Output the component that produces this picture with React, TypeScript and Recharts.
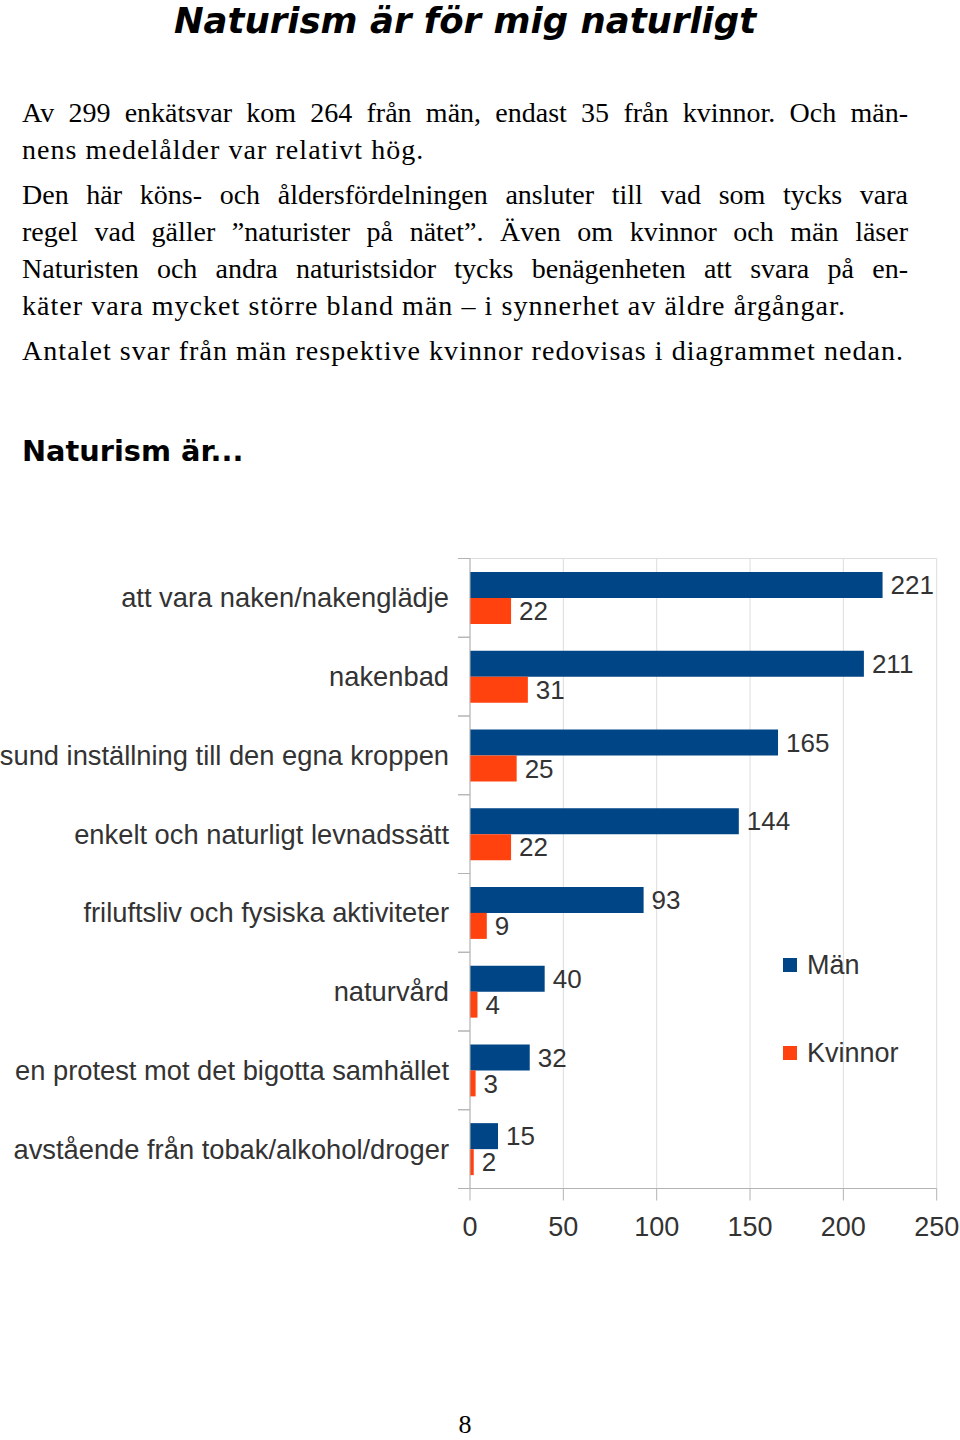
import React from 'react';
import { BarChart, Bar, XAxis, YAxis, CartesianGrid, Legend, LabelList } from 'recharts';

const categories = [
  'att vara naken/nakenglädje',
  'nakenbad',
  'sund inställning till den egna kroppen',
  'enkelt och naturligt levnadssätt',
  'friluftsliv och fysiska aktiviteter',
  'naturvård',
  'en protest mot det bigotta samhället',
  'avstående från  tobak/alkohol/droger',
];
const manValues = [221, 211, 165, 144, 93, 40, 32, 15];
const kvinnorValues = [22, 31, 25, 22, 9, 4, 3, 2];
const xTicks = [0, 50, 100, 150, 200, 250];

const MAN = '#004586';
const KVINNOR = '#ff420e';
const GRID = '#dddddd';
const AXIS = '#b3b3b3';
const TEXT = '#333333';
const SANS = "'Liberation Sans', Arial, sans-serif";

const data = categories.map((name, i) => ({ name, man: manValues[i], kvinnor: kvinnorValues[i] }));

// body text, one entry per printed line (justified lines marked)
const lines = [
  { text: 'Av 299 enkätsvar kom 264 från män, endast 35 från kvinnor. Och män-', y: 113, justify: true },
  { text: 'nens medelålder var relativt hög.', y: 150, justify: false },
  { text: 'Den här köns- och åldersfördelningen ansluter till vad som tycks vara', y: 195, justify: true },
  { text: 'regel vad gäller ”naturister på nätet”. Även om kvinnor och män läser', y: 232, justify: true },
  { text: 'Naturisten och andra naturistsidor tycks benägenheten att svara på en-', y: 269, justify: true },
  { text: 'käter vara mycket större bland män – i synnerhet av äldre årgångar.', y: 306, justify: false },
  { text: 'Antalet svar från män respektive kvinnor redovisas i diagrammet nedan.', y: 351, justify: false },
];

const CategoryTick = (props: any) => {
  const { x, y, payload } = props;
  const off = payload.offset || 0;
  return (
    <g>
      <line x1={x + 9} x2={x + 21} y1={y - off} y2={y - off} stroke={AXIS} />
      <line x1={x + 9} x2={x + 21} y1={y + off} y2={y + off} stroke={AXIS} />
      <text x={x} y={y} textAnchor="end" dominantBaseline="central" fill={TEXT} fontSize={27.3} fontFamily={SANS}>
        {payload.value}
      </text>
    </g>
  );
};

const LegendBox = () => (
  <div style={{ fontFamily: SANS, fontSize: 27, color: TEXT }}>
    {[{ label: 'Män', color: MAN }, { label: 'Kvinnor', color: KVINNOR }].map((it, i) => (
      <div key={it.label} style={{ display: 'flex', alignItems: 'center', height: 30, marginBottom: i === 0 ? 58 : 0 }}>
        <span style={{ width: 14, height: 14, background: it.color, display: 'inline-block', marginRight: 10 }} />
        <span>{it.label}</span>
      </div>
    ))}
  </div>
);

export default function App() {
  return (
    <div style={{ position: 'relative', width: 960, height: 1440, background: '#fff', overflow: 'hidden' }}>
      <style>{`body{margin:0}`}</style>
      <div style={{ position: 'absolute', left: 0, top: 0, width: 930, textAlign: 'center',
        fontFamily: "'DejaVu Sans', sans-serif", fontWeight: 'bold', fontStyle: 'italic', fontSize: 35.5, lineHeight: '41px' }}>
        Naturism är för mig naturligt
      </div>
      {lines.map((l) => (
        <div key={l.text} style={{ position: 'absolute', left: 22, top: l.y - 19, width: 886,
          fontFamily: "'Liberation Serif', serif", fontSize: 28, lineHeight: '37px', color: '#000',
          letterSpacing: l.justify ? 0 : 1.05,
          textAlign: l.justify ? 'justify' : 'left', textAlignLast: l.justify ? 'justify' : 'auto', whiteSpace: 'nowrap' }}>
          {l.text}
        </div>
      ))}
      <div style={{ position: 'absolute', left: 22, top: 433, fontFamily: "'DejaVu Sans', sans-serif",
        fontWeight: 'bold', fontSize: 28.8, lineHeight: '36px' }}>
        Naturism är...
      </div>
      <div style={{ position: 'absolute', left: 0, top: 500 }}>
        <BarChart width={960} height={760} data={data} layout="vertical" barCategoryGap="17%" barGap={0}
          margin={{ top: 58.5, right: 23.3, left: 0, bottom: 0 }}>
          <CartesianGrid stroke={GRID} horizontal={true} vertical={true}
            horizontalCoordinatesGenerator={({ offset }: any) => [offset.top]} />
          <XAxis type="number" domain={[0, 250]} ticks={xTicks} height={71.5} tickSize={12} tickMargin={16}
            axisLine={{ stroke: AXIS }} tickLine={{ stroke: AXIS }}
            tick={{ fill: TEXT, fontSize: 27, fontFamily: SANS }} />
          <YAxis type="category" dataKey="name" width={470} axisLine={{ stroke: AXIS }} tickLine={false}
            tickSize={0} tickMargin={21} tick={<CategoryTick />} interval={0} />
          <Legend content={<LegendBox />} layout="horizontal" verticalAlign="middle" align="center"
            wrapperStyle={{ left: 783, top: 450, width: 'auto' }} />
          <Bar dataKey="man" name="Män" fill={MAN} isAnimationActive={false}>
            <LabelList dataKey="man" position="right" offset={8} fill={TEXT} fontSize={26} fontFamily={SANS} />
          </Bar>
          <Bar dataKey="kvinnor" name="Kvinnor" fill={KVINNOR} isAnimationActive={false}>
            <LabelList dataKey="kvinnor" position="right" offset={8} fill={TEXT} fontSize={26} fontFamily={SANS} />
          </Bar>
        </BarChart>
      </div>
      <div style={{ position: 'absolute', left: 0, top: 1410, width: 930, textAlign: 'center',
        fontFamily: "'Liberation Serif', serif", fontSize: 26, lineHeight: '30px' }}>
        8
      </div>
    </div>
  );
}
